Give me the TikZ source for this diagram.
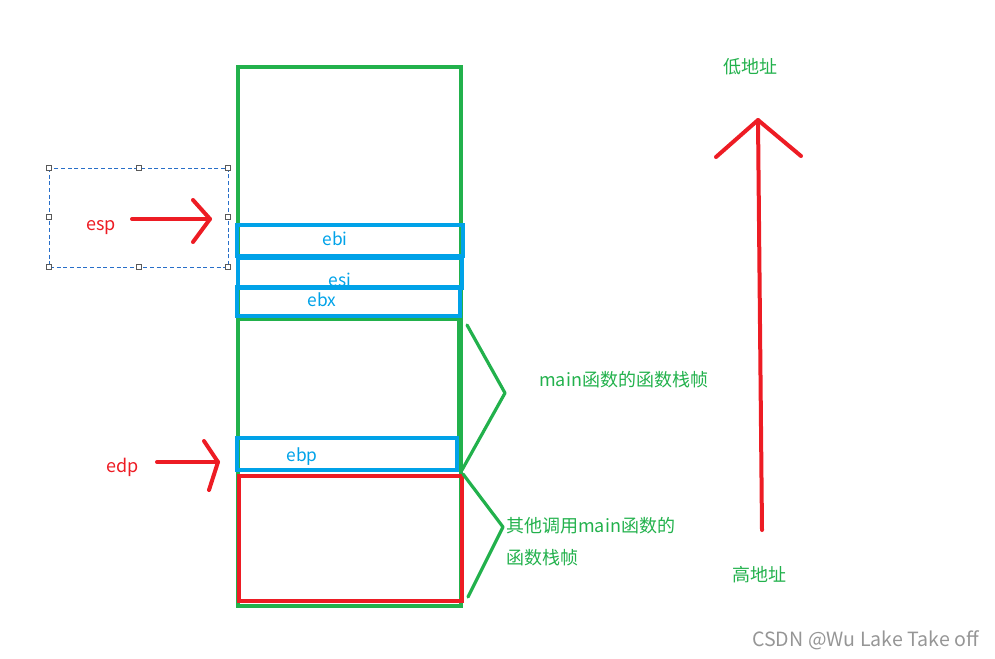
\documentclass[tikz,border=0pt]{standalone}
\usepackage{fontspec}
\setmainfont{Noto Sans CJK SC}
\usetikzlibrary{positioning}
\definecolor{framegreen}{RGB}{34,177,76}
\definecolor{ptrred}{RGB}{237,28,36}
\definecolor{regblue}{RGB}{0,162,232}
\definecolor{selblue}{RGB}{40,110,200}
\definecolor{markgray}{RGB}{150,150,150}

\begin{document}
\begin{tikzpicture}[
        x=0.75pt, y=-0.75pt,
        frame/.style={draw=framegreen, line width=3.2pt},
        regbox/.style={draw=regblue, line width=3.4pt},
        ptr/.style={draw=ptrred, line width=3pt, line cap=round, line join=round},
        brace/.style={draw=framegreen, line width=2.4pt, line cap=round, line join=round},
        reglbl/.style={text=regblue, font=\fontsize{13}{15}\selectfont, inner sep=0pt},
        ptrlbl/.style={text=ptrred, font=\fontsize{13.5}{15}\selectfont, inner sep=0pt},
        note/.style={text=framegreen, font=\fontsize{13.5}{16}\selectfont, inner sep=0pt},
        handle/.style={draw=black!65, fill=white, line width=0.5pt, minimum size=4pt, inner sep=0pt}
      ]
        \useasboundingbox (0,0) rectangle (995,658);
        \draw[frame] (238,67) rectangle (461,606);
        \draw[frame] (238,319) rectangle (459,470);
        \draw[ptr, line cap=butt, line join=miter] (239,476) rectangle (462,601);
        \node[reglbl] (esi) at (340,280) {esi};
        \draw[regbox] (237,225) rectangle (463,256);
        \draw[regbox] (238,258) rectangle (462,288);
        \draw[regbox] (237,287) rectangle (460,316);
        \draw[regbox] (237,438) rectangle (457,470);
        \node[reglbl] (ebi) at (335,239) {ebi};
        \node[reglbl] (ebx) at (322,300) {ebx};
        \node[reglbl] (ebp) at (302,457) {ebp};
        \draw[selblue, line width=0.75pt, dash pattern=on 3pt off 2pt] (49,168) rectangle (228,267);
        \foreach \hx/\hy in {49/168, 139/168, 228/168, 49/217, 228/217, 49/267, 139/267, 228/267}
          \node[handle] at (\hx,\hy) {};
        \node[ptrlbl] (esp) at (101,228) {esp};
        \coordinate (esptail) at (132,219);
        \coordinate (esptip) at (210,219);
        \draw[ptr] (esptail) -- (esptip);
        \draw[ptr] (193,200) -- (esptip) -- (193,242);
        \node[ptrlbl] (edp) at (123,467) {edp};
        \coordinate (edptail) at (157,462);
        \coordinate (edptip) at (218,462);
        \draw[ptr] (edptail) -- (edptip);
        \draw[ptr] (204,441) -- (edptip) -- (209,490);
        \coordinate (maintop) at (467,325);
        \coordinate (mainmid) at (505,393);
        \coordinate (mainbot) at (462,470);
        \draw[brace] (maintop) -- (mainmid) -- (mainbot);
        \coordinate (calltop) at (463,474);
        \coordinate (callmid) at (503,527);
        \coordinate (callbot) at (468,597);
        \draw[brace] (calltop) -- (callmid) -- (callbot);
        \node[note, anchor=west] (mainnote) at (539,380) {main函数的函数栈帧};
        \node[note, anchor=west] (callnote) at (506,526) {其他调用main函数的};
        \node[note, anchor=west] (callnotetwo) at (506,558) {函数栈帧};
        \coordinate (growtail) at (762,530);
        \coordinate (growtip) at (758,120);
        \draw[ptr] (growtail) -- (growtip);
        \draw[ptr] (716,157) -- (growtip) -- (801,156);
        \node[note] (low) at (750,67) {低地址};
        \node[note] (high) at (759,575) {高地址};
        \node[text=markgray, font=\fontsize{14.7}{17}\selectfont, inner sep=0pt, anchor=east] (mark) at (979,640) {CSDN @Wu Lake Take off};
      \end{tikzpicture}
\end{document}
